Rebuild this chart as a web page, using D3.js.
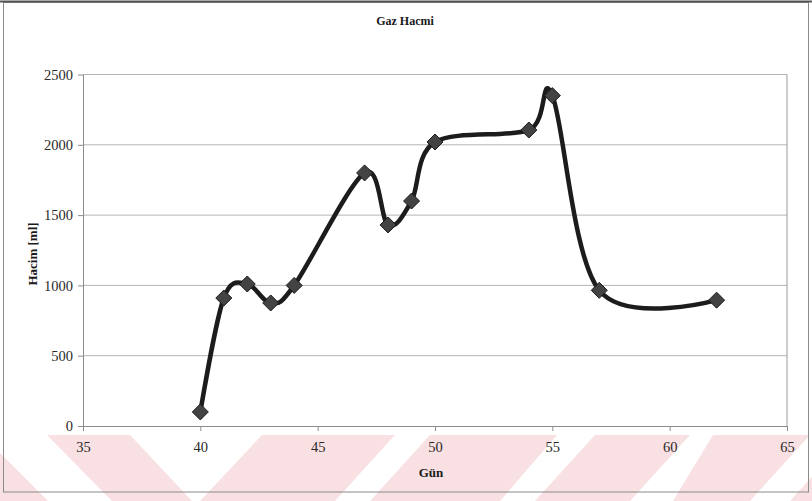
<!DOCTYPE html>
<html>
<head>
<meta charset="utf-8">
<script src="https://cdn.jsdelivr.net/npm/d3@7"></script>
<style>
  html, body { margin: 0; padding: 0; background: #ffffff; }
  svg { display: block; }
</style>
</head>
<body>
<svg id="chart" width="812" height="501"></svg>
<script>
// Gas volume measured on each day
const days    = [40, 41, 42, 43, 44, 47, 48, 49, 50, 54, 55, 57, 62];
const volumes = [100, 910, 1010, 875, 1000, 1800, 1430, 1600, 2020, 2105, 2350, 965, 895];

const xTicks = [35, 40, 45, 50, 55, 60, 65];
const yTicks = [0, 500, 1000, 1500, 2000, 2500];

const titleText = "Gaz Hacmi";
const xTitle = "Gün";
const yTitle = "Hacim [ml]";

const W = 812, H = 501;
const plot = { left: 83, right: 787, top: 74.5, bottom: 426 };
const serif = "'Liberation Serif', 'Times New Roman', serif";

const svg = d3.select("#chart");

svg.append("rect").attr("width", W).attr("height", H).attr("fill", "#ffffff");

// Pale diagonal band pattern along the lower edge
const bandTop = 435, bandBottom = 501;
const bands = [
  [[-100, -18], [-34, 48]],
  [[47, 130], [112, 192]],
  [[262, 395], [200, 335]],
  [[430, 557], [370, 500]],
  [[595, 690], [535, 630]],
  [[713, 810], [673, 750]],
  [[850, 950], [790, 890]]
];
svg.append("g").selectAll("path").data(bands).join("path")
  .attr("d", b => `M${b[0][0]},${bandTop}L${b[0][1]},${bandTop}L${b[1][1]},${bandBottom}L${b[1][0]},${bandBottom}Z`)
  .attr("fill", "#f9e0e3");

// Outer chart frame
svg.append("rect")
  .attr("x", 3.5).attr("y", 2.5)
  .attr("width", 805).attr("height", 489.5)
  .attr("fill", "none")
  .attr("stroke", "#8a8a8a")
  .attr("stroke-width", 1);
svg.append("line")
  .attr("x1", 0).attr("x2", W).attr("y1", 1.5).attr("y2", 1.5)
  .attr("stroke", "#555").attr("stroke-width", 2);

const x = d3.scaleLinear().domain([35, 65]).range([plot.left, plot.right]);
const y = d3.scaleLinear().domain([0, 2500]).range([plot.bottom, plot.top]);

// Horizontal gridlines
svg.append("g").selectAll("line").data(yTicks.filter(v => v > 0)).join("line")
  .attr("x1", plot.left).attr("x2", plot.right)
  .attr("y1", d => y(d)).attr("y2", d => y(d))
  .attr("stroke", "#b4b4b4").attr("stroke-width", 1);

// Right edge of plot area
svg.append("line")
  .attr("x1", plot.right).attr("x2", plot.right)
  .attr("y1", plot.top).attr("y2", plot.bottom)
  .attr("stroke", "#9a9a9a").attr("stroke-width", 1);

// Axes
const xAxis = svg.append("g")
  .attr("transform", `translate(0,${plot.bottom})`)
  .call(d3.axisBottom(x).tickValues(xTicks).tickFormat(d3.format("d"))
    .tickSize(5).tickPadding(11).tickSizeOuter(0));
const yAxis = svg.append("g")
  .attr("transform", `translate(${plot.left},0)`)
  .call(d3.axisLeft(y).tickValues(yTicks).tickFormat(d3.format("d"))
    .tickSize(5).tickPadding(5).tickSizeOuter(0));

[xAxis, yAxis].forEach(g => {
  g.select(".domain").attr("stroke", "#8c8c8c");
  g.selectAll(".tick line").attr("stroke", "#8c8c8c");
  g.selectAll(".tick text")
    .attr("fill", "#2a2a2a")
    .style("font-family", serif)
    .style("font-size", "14.5px");
});

// Smoothed series line
const line = d3.line()
  .x(d => x(d[0]))
  .y(d => y(d[1]))
  .curve(d3.curveCardinal.tension(0));
const pts = days.map((d, i) => [d, volumes[i]]);

svg.append("path")
  .datum(pts)
  .attr("d", line)
  .attr("fill", "none")
  .attr("stroke", "#1c1c1c")
  .attr("stroke-width", 4.5)
  .attr("stroke-linejoin", "round");

// Diamond markers
const r = 8;
svg.append("g").selectAll("path").data(pts).join("path")
  .attr("transform", d => `translate(${x(d[0])},${y(d[1])})`)
  .attr("d", `M0,${-r}L${r},0L0,${r}L${-r},0Z`)
  .attr("fill", "#434343")
  .attr("stroke", "#1a1a1a")
  .attr("stroke-width", 1);

// Titles
svg.append("text")
  .attr("x", 405).attr("y", 25)
  .attr("text-anchor", "middle")
  .style("font-family", serif).style("font-size", "12px").style("font-weight", "bold")
  .attr("fill", "#1a1a1a")
  .text(titleText);

svg.append("text")
  .attr("transform", "translate(36.5,254) rotate(-90)")
  .attr("text-anchor", "middle")
  .style("font-family", serif).style("font-size", "13px").style("font-weight", "bold")
  .attr("fill", "#1a1a1a")
  .text(yTitle);

svg.append("text")
  .attr("x", 431).attr("y", 477)
  .attr("text-anchor", "middle")
  .style("font-family", serif).style("font-size", "13px").style("font-weight", "bold")
  .attr("fill", "#1a1a1a")
  .text(xTitle);
</script>
</body>
</html>
